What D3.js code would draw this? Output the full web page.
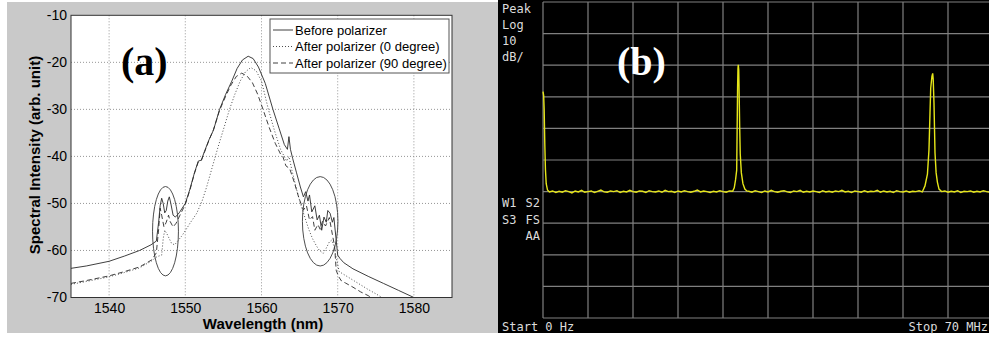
<!DOCTYPE html>
<html>
<head>
<meta charset="utf-8">
<script src="https://cdn.jsdelivr.net/npm/d3@7"></script>
<style>
html,body{margin:0;padding:0;background:#fff;}
svg{display:block;}
</style>
</head>
<body>
<svg id="chart" width="989" height="339"></svg>
<script>
// ---------------- Panel (a) data ----------------
const xTicks = [1540, 1550, 1560, 1570, 1580];
const yTicks = [-10, -20, -30, -40, -50, -60, -70];
const seriesNames = ["Before polarizer", "After polarizer (0 degree)", "After polarizer (90 degree)"];

const beforeWl = [1535,1537,1540,1542,1544,1545.5,1546.2,1546.5,1546.7,1546.9,1547.1,1547.3,1547.5,1547.7,1547.9,1548.1,1548.4,1548.7,1549.2,1550,1550.6,1551.2,1551.7,1552.1,1552.5,1553.1,1553.7,1554.5,1555.3,1556.1,1556.8,1557.5,1558.25,1558.9,1559.6,1560.5,1561.5,1562.3,1563.0,1563.4,1563.6,1563.8,1564.1,1564.6,1565.1,1565.5,1565.8,1566.1,1566.3,1566.6,1567.0,1567.3,1567.6,1567.9,1568.2,1568.5,1568.7,1569.0,1569.3,1569.5,1569.8,1570.0,1570.3,1570.8,1572,1574,1576,1578,1580];
const beforeDb = [-63.8,-63.3,-62.3,-61.2,-60.0,-58.8,-58.0,-54.0,-50.5,-48.9,-50.0,-52.0,-51.5,-49.5,-48.6,-50.0,-52.5,-52.9,-52.0,-50.0,-47.0,-43.5,-41.0,-40.8,-39.0,-36.5,-34.4,-30.0,-26.8,-24.0,-21.3,-19.5,-18.7,-19.2,-21.0,-24.5,-30.0,-34.0,-37.5,-38.5,-35.8,-38.5,-40.5,-43.5,-46.5,-48.6,-47.5,-49.5,-48.2,-51.8,-50.5,-53.5,-52.5,-55.7,-52.9,-54.0,-51.5,-52.1,-54.0,-53.0,-57.8,-61.0,-61.7,-62.6,-63.9,-65.5,-67.0,-68.5,-70.0];

const deg0Wl = [1535,1537,1540,1542,1544,1545.6,1546.3,1546.9,1547.1,1547.3,1547.6,1547.9,1548.2,1548.6,1549.0,1549.5,1550.0,1550.7,1551.5,1552.2,1552.8,1553.5,1554.3,1555.0,1555.8,1556.5,1557.2,1557.9,1558.6,1559.3,1560.0,1560.9,1561.7,1562.5,1563.3,1563.6,1564.0,1564.6,1565.2,1565.7,1566.2,1566.7,1567.2,1567.6,1568.1,1568.5,1568.9,1569.2,1569.5,1569.8,1570.2,1571,1572,1573,1574,1575,1575.8];
const deg0Db = [-67.2,-66.6,-65.6,-64.7,-63.7,-62.2,-61.3,-61.0,-57.5,-55.7,-56.5,-57.5,-58.5,-58.8,-58.0,-57.0,-55.8,-54.0,-52.1,-49.5,-46.5,-42.5,-38.0,-34.3,-30.0,-26.8,-24.0,-22.0,-21.1,-21.8,-24.0,-30.0,-34.5,-38.5,-41.0,-40.0,-43.0,-47.0,-50.5,-53.0,-55.5,-57.5,-59.0,-60.0,-60.6,-59.5,-58.2,-57.8,-59.0,-61.5,-64.5,-65.3,-66.3,-67.3,-68.3,-69.2,-70.0];

const deg90Wl = [1535,1537,1540,1542,1544,1545.6,1546.2,1546.5,1546.7,1546.9,1547.2,1547.5,1547.8,1548.0,1548.4,1548.8,1549.3,1550.0,1550.6,1551.2,1551.7,1552.1,1552.5,1553.1,1553.7,1554.5,1555.3,1556.0,1556.7,1557.4,1558.1,1558.8,1559.5,1560.2,1561.0,1561.8,1562.5,1562.8,1563.2,1563.7,1564.3,1564.9,1565.5,1565.9,1566.3,1566.7,1567.0,1567.4,1567.7,1568.0,1568.4,1568.9,1569.2,1569.6,1569.8,1570.1,1570.5,1571,1572,1573,1574,1574.4];
const deg90Db = [-67.0,-66.4,-65.4,-64.5,-63.5,-62.0,-60.5,-55.5,-51.0,-52.5,-55.0,-54.0,-52.5,-53.8,-55.0,-54.2,-52.5,-50.2,-47.2,-43.6,-41.2,-40.9,-39.2,-36.6,-34.3,-30.2,-27.2,-24.8,-23.0,-22.3,-22.9,-24.3,-26.8,-30.0,-33.8,-37.2,-39.5,-40.0,-42.0,-42.6,-45.5,-48.8,-51.4,-50.5,-53.5,-52.8,-55.7,-54.5,-55.5,-53.8,-54.8,-53.0,-55.7,-59.2,-64.2,-65.5,-66.5,-66.9,-67.8,-68.8,-69.6,-70.0];

// ellipses marking side lobes: centre wavelength, centre dB, half width (nm), half height (dB)
const ellipseWl = [1547.4, 1567.7];
const ellipseDb = [-55.9, -53.8];
const ellipseRxNm = [1.7, 2.33];
const ellipseRyDb = [9.5, 9.5];

// ---------------- Panel (b) data ----------------
const saStartMHz = 0, saStopMHz = 70;
const saTopDb = 0, saBottomDb = -100; // 10 dB/div, 10 divisions
const saLeftLabels = ["Peak", "Log", "10", "dB/"];
const saMidLeft = ["W1", "S3"];
const saMidRight = ["S2", "FS", "AA"];

const startSpikeMHz = [0, 0.1, 0.18, 0.28, 0.38, 0.5, 0.7];
const startSpikeDb  = [-28.4, -29.5, -34, -45, -53, -57.5, -59.5];
const floorAStartMHz = 1.0; // 0.5 MHz sampling
const floorADb = [-60.1,-59.8,-60.3,-59.9,-60.2,-59.7,-60.0,-60.4,-59.8,-60.1,
  -59.6,-60.2,-60.0,-59.8,-60.3,-59.9,-59.5,-60.1,-60.2,-59.8,
  -60.0,-59.7,-60.3,-59.9,-60.1,-59.6,-60.0,-60.2,-59.8,-59.9,
  -60.3,-59.7,-60.0,-60.1,-59.8,-60.2,-59.6,-60.0,-59.9,-60.3,
  -59.8,-60.1,-59.7,-60.0,-60.2,-59.9,-59.5,-60.1,-59.8,-60.0,
  -60.3,-59.9,-60.1,-59.7,-60.0,-60.2,-59.8,-59.9];
const peak1MHz = [29.75,29.95,30.13,30.2,30.27,30.33,30.38,30.45,30.52,30.6,30.68,30.85,31.1,31.4,31.7];
const peak1Db  = [-58.8,-56.3,-53.2,-40,-27,-21,-19.9,-21.5,-30,-40,-48,-54,-57.5,-59.2,-59.8];
const floorBStartMHz = 32.0;
const floorBDb = [-59.9,-60.2,-59.7,-60.0,-60.3,-59.8,-60.1,-59.6,-60.0,-60.2,
  -59.9,-59.7,-60.1,-60.3,-59.8,-60.0,-59.6,-60.2,-59.9,-60.1,
  -59.8,-60.0,-60.3,-59.7,-60.1,-59.9,-60.2,-59.8,-60.0,-59.6,
  -60.1,-59.9,-60.3,-59.8,-60.0,-60.2,-59.7,-60.1,-59.9,-60.0,
  -59.6,-60.2,-59.8,-60.1,-59.9,-60.3,-59.7,-60.0,-60.1,-59.8,
  -60.2,-59.9,-60.0,-59.7,-60.1];
const peak2MHz = [59.42,59.8,60.04,60.2,60.31,60.5,60.62,60.7,60.82,60.98,61.15,61.35,61.6];
const peak2Db  = [-58.2,-54.5,-46.8,-35.1,-27.3,-23.5,-22.6,-24.5,-32,-47.8,-54,-57,-59.2];
const floorCStartMHz = 62.0;
const floorCDb = [-60.0,-59.8,-60.2,-59.9,-60.1,-59.7,-60.3,-59.9,-60.0,-59.8,
  -60.2,-59.9,-60.1,-59.7,-60.0,-60.2,-59.9];

// ---------------- Drawing ----------------
const svg = d3.select("#chart");
const SANS = "'Liberation Sans', Arial, sans-serif";
const SERIF = "'Liberation Serif', 'Times New Roman', serif";
const MONO = "'DejaVu Sans Mono', monospace";

// ---- Panel (a) ----
svg.append("rect").attr("x", 7).attr("y", 2).attr("width", 491).attr("height", 331).attr("fill", "#c9c9c9");

const ax = {left: 71, right: 452, top: 15.3, bottom: 297.5};
const x = d3.scaleLinear().domain([1535, 1585]).range([ax.left, ax.right]);
const y = d3.scaleLinear().domain([-70, -10]).range([ax.bottom, ax.top]);

const ga = svg.append("g");
ga.append("rect").attr("x", ax.left).attr("y", ax.top).attr("width", ax.right - ax.left)
  .attr("height", ax.bottom - ax.top).attr("fill", "#fff");

// grid
ga.append("g").selectAll("line").data(xTicks).join("line")
  .attr("x1", d => x(d)).attr("x2", d => x(d)).attr("y1", ax.top).attr("y2", ax.bottom)
  .attr("stroke", "#8a8a8a").attr("stroke-width", 0.9).attr("stroke-dasharray", "1,2");
ga.append("g").selectAll("line").data(yTicks.filter(d => d > -70 && d < -10)).join("line")
  .attr("y1", d => y(d)).attr("y2", d => y(d)).attr("x1", ax.left).attr("x2", ax.right)
  .attr("stroke", "#8a8a8a").attr("stroke-width", 0.9).attr("stroke-dasharray", "1,2");

// curves
const line = d3.line().x(d => x(d[0])).y(d => y(d[1]));
const curves = [
  {wl: beforeWl, db: beforeDb, dash: null, color: "#2a2a2a", w: 0.9},
  {wl: deg0Wl, db: deg0Db, dash: "1,2", color: "#3a3a3a", w: 0.9},
  {wl: deg90Wl, db: deg90Db, dash: "5,3", color: "#2a2a2a", w: 0.9}
];
ga.append("g").selectAll("path").data(curves).join("path")
  .attr("d", c => line(c.wl.map((w, i) => [w, c.db[i]])))
  .attr("fill", "none").attr("stroke", c => c.color).attr("stroke-width", c => c.w)
  .attr("stroke-dasharray", c => c.dash);

// ellipses
ga.append("g").selectAll("ellipse").data(ellipseWl).join("ellipse")
  .attr("cx", (d, i) => x(d)).attr("cy", (d, i) => y(ellipseDb[i]))
  .attr("rx", (d, i) => x(d + ellipseRxNm[i]) - x(d))
  .attr("ry", (d, i) => y(ellipseDb[i] - ellipseRyDb[i]) - y(ellipseDb[i]))
  .attr("fill", "none").attr("stroke", "#3a3a3a").attr("stroke-width", 0.9);

// box
ga.append("rect").attr("x", ax.left).attr("y", ax.top).attr("width", ax.right - ax.left)
  .attr("height", ax.bottom - ax.top).attr("fill", "none").attr("stroke", "#333").attr("stroke-width", 1);

// axes
const xAxis = ga.append("g").attr("transform", `translate(0,${ax.bottom})`)
  .call(d3.axisBottom(x).tickValues(xTicks).tickSize(0).tickPadding(6).tickFormat(d3.format("d")));
const yAxis = ga.append("g").attr("transform", `translate(${ax.left},0)`)
  .call(d3.axisLeft(y).tickValues(yTicks).tickSize(0).tickPadding(4).tickFormat(d3.format("d")));
[xAxis, yAxis].forEach(a => {
  a.select(".domain").remove();
  a.selectAll("text").attr("font-family", SANS).attr("font-size", 14).attr("fill", "#000");
});
yAxis.selectAll("text").text(d => d < 0 ? "-" + Math.abs(d) : d);

ga.append("text").attr("x", 263).attr("y", 329).attr("text-anchor", "middle")
  .attr("font-family", SANS).attr("font-weight", "bold").attr("font-size", 15).text("Wavelength (nm)");
ga.append("text").attr("transform", "translate(40,155) rotate(-90)").attr("text-anchor", "middle")
  .attr("font-family", SANS).attr("font-weight", "bold").attr("font-size", 15).text("Spectral Intensity (arb. unit)");

ga.append("text").attr("x", 121).attr("y", 75).attr("font-family", SERIF).attr("font-weight", "bold")
  .attr("font-size", 40).text("(a)");

// legend
const lg = ga.append("g");
lg.append("rect").attr("x", 270).attr("y", 19).attr("width", 179).attr("height", 54)
  .attr("fill", "#fff").attr("stroke", "#555").attr("stroke-width", 1);
const legRows = lg.selectAll("g").data(seriesNames).join("g")
  .attr("transform", (d, i) => `translate(0,${30 + i * 16.5})`);
legRows.append("line").attr("x1", 273).attr("x2", 293).attr("y1", 0).attr("y2", 0)
  .attr("stroke", (d, i) => curves[i].color).attr("stroke-width", 0.9)
  .attr("stroke-dasharray", (d, i) => curves[i].dash);
legRows.append("text").attr("x", 295).attr("y", 0).attr("dy", "0.35em")
  .attr("font-family", SANS).attr("font-size", 13).text(d => d);

// ---- Panel (b) ----
const gb = svg.append("g");
gb.append("rect").attr("x", 498).attr("y", 0).attr("width", 491).attr("height", 333).attr("fill", "#000");

const fx = d3.scaleLinear().domain([saStartMHz, saStopMHz]).range([543, 993]);
const fy = d3.scaleLinear().domain([saBottomDb, saTopDb]).range([318, 2]);
const vDivs = d3.range(0, 11).map(i => saStartMHz + i * (saStopMHz - saStartMHz) / 10);
const hDivs = d3.range(0, 11).map(i => saBottomDb + i * 10);

gb.append("g").selectAll("line").data(vDivs).join("line")
  .attr("x1", d => fx(d)).attr("x2", d => fx(d)).attr("y1", fy(saTopDb)).attr("y2", fy(saBottomDb))
  .attr("stroke", "#808080").attr("stroke-width", 1.2);
gb.append("g").selectAll("line").data(hDivs).join("line")
  .attr("y1", d => fy(d)).attr("y2", d => fy(d)).attr("x1", fx(saStartMHz)).attr("x2", fx(saStopMHz))
  .attr("stroke", "#808080").attr("stroke-width", 1.2);

// trace
const trace = [];
startSpikeMHz.forEach((f, i) => trace.push([f, startSpikeDb[i]]));
floorADb.forEach((v, i) => trace.push([floorAStartMHz + i * 0.5, v]));
peak1MHz.forEach((f, i) => trace.push([f, peak1Db[i]]));
floorBDb.forEach((v, i) => trace.push([floorBStartMHz + i * 0.5, v]));
peak2MHz.forEach((f, i) => trace.push([f, peak2Db[i]]));
floorCDb.forEach((v, i) => trace.push([floorCStartMHz + i * 0.5, v]));

gb.append("path")
  .attr("d", d3.line().x(d => fx(d[0])).y(d => fy(d[1]))(trace))
  .attr("fill", "none").attr("stroke", "#e6e619").attr("stroke-width", 1.4);

const labelFill = "#dcdcdc";
gb.append("g").selectAll("text").data(saLeftLabels).join("text")
  .attr("x", 502).attr("y", (d, i) => 12.5 + i * 16)
  .attr("font-family", MONO).attr("font-size", 12).attr("fill", labelFill).text(d => d);
gb.append("g").selectAll("text").data(saMidLeft).join("text")
  .attr("x", 502).attr("y", (d, i) => 207 + i * 16.5)
  .attr("font-family", MONO).attr("font-size", 12).attr("fill", labelFill).text(d => d);
gb.append("g").selectAll("text").data(saMidRight).join("text")
  .attr("x", 540).attr("y", (d, i) => 207 + i * 16.5).attr("text-anchor", "end")
  .attr("font-family", MONO).attr("font-size", 12).attr("fill", labelFill).text(d => d);
gb.append("text").attr("x", 502).attr("y", 331).attr("font-family", MONO).attr("font-size", 12)
  .attr("fill", labelFill).text(`Start ${saStartMHz} Hz`);
gb.append("text").attr("x", 988).attr("y", 331).attr("text-anchor", "end").attr("font-family", MONO)
  .attr("font-size", 12).attr("fill", labelFill).text(`Stop ${saStopMHz} MHz`);

gb.append("text").attr("x", 617).attr("y", 75).attr("font-family", SERIF).attr("font-weight", "bold")
  .attr("font-size", 40).attr("fill", "#fff").text("(b)");
</script>
</body>
</html>
